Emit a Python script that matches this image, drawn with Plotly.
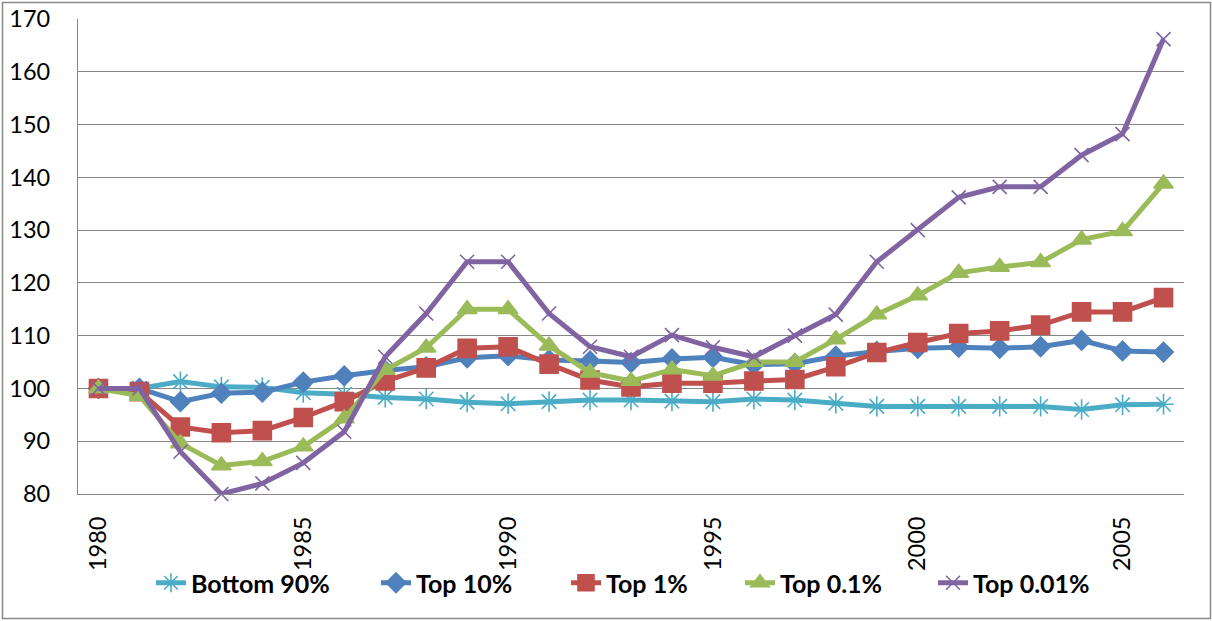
import plotly.graph_objects as go

years = list(range(1980, 2007))

bottom_90 = [100, 100, 101.3, 100.3, 100.2, 99.2, 98.9, 98.3, 98.0, 97.4, 97.1, 97.5, 97.8, 97.8, 97.6, 97.5,
             98.0, 97.8, 97.2, 96.6, 96.6, 96.6, 96.6, 96.6, 96.0, 96.9, 97.0]
top_10 = [100, 100, 97.5, 99.1, 99.3, 101.2, 102.4, 103.4, 104.1, 105.8, 106.2, 105.4, 105.2, 104.9, 105.6, 105.9,
          104.5, 104.7, 106.1, 107.0, 107.6, 107.8, 107.6, 107.9, 109.1, 107.1, 106.9]
top_1 = [100, 99.4, 92.7, 91.6, 92.0, 94.5, 97.5, 101.4, 103.9, 107.6, 107.9, 104.6, 101.6, 100.3, 101.0, 101.0,
         101.4, 101.7, 104.1, 106.8, 108.7, 110.4, 110.9, 112.0, 114.5, 114.5, 117.2]
top_01 = [100, 98.6, 89.6, 85.4, 86.2, 89.0, 94.3, 103.5, 107.7, 115.0, 115.0, 108.1, 103.0, 101.4, 103.6, 102.4,
          105.0, 105.0, 109.3, 114.0, 117.6, 121.9, 123.0, 123.9, 128.2, 129.8, 138.8]
top_001 = [100, 100, 88, 80, 82, 85.9, 91.8, 106, 114.2, 124, 124, 114.2, 107.9, 106, 110.1, 107.8,
           106, 110, 114, 124, 130, 136.2, 138.2, 138.2, 144.2, 148.2, 166.2]

# name, values, colour, marker, marker size, legend slot
series = [
    ("Bottom 90%", bottom_90, "#4BACC6", "asterisk-open", 17, "legend"),
    ("Top 10%", top_10, "#4F81BD", "diamond", 15, "legend2"),
    ("Top 1%", top_1, "#C0504D", "square", 18, "legend3"),
    ("Top 0.1%", top_01, "#9BBB59", "triangle-up", 17, "legend4"),
    ("Top 0.01%", top_001, "#8064A2", "x-thin-open", 14, "legend5"),
]
# where each legend entry's text starts (px)
text_starts = [193, 418, 608, 782, 975]

fig = go.Figure()
for name, vals, col, sym, sz, lg in series:
    fig.add_trace(go.Scatter(
        x=years, y=vals, name=name, mode="lines+markers",
        line=dict(color=col, width=5),
        marker=dict(symbol=sym, size=sz, color=col, line=dict(color=col, width=1.6)),
        cliponaxis=False, legend=lg,
    ))

legend_font = dict(family="Lato", size=25, color="black", weight="bold")
legends = {}
for (name, vals, col, sym, sz, lg), tx in zip(series, text_starts):
    legends[lg] = dict(orientation="h", xref="container", yref="container",
                       x=(tx - 42) / 1212, xanchor="left", y=(621 - 583) / 621, yanchor="middle",
                       font=legend_font, bgcolor="rgba(0,0,0,0)")

fig.update_layout(
    width=1212, height=621,
    margin=dict(l=78, r=28, t=19, b=127, autoexpand=False),
    paper_bgcolor="white", plot_bgcolor="white",
    font=dict(family="Lato", size=23.5, color="black"),
    showlegend=True,
    # outer chart frame
    shapes=[dict(type="rect", xref="paper", yref="paper",
                 x0=-75.5 / 1106, x1=1132.5 / 1106, y0=-124.5 / 475, y1=1 + 16.5 / 475,
                 line=dict(color="#8a8a8a", width=1.5), layer="above")],
    **legends,
)
fig.update_xaxes(range=[1979.5, 2006.5], tickvals=[1980, 1985, 1990, 1995, 2000, 2005],
                 tickangle=-90, showgrid=False, showline=True, linecolor="#868686", linewidth=1.3,
                 ticks="", ticklabelstandoff=12, zeroline=False, automargin=False)
fig.update_yaxes(range=[80, 170], dtick=10, showgrid=True, gridcolor="#868686", gridwidth=1.3,
                 showline=True, linecolor="#868686", linewidth=1.3, ticks="",
                 ticklabelstandoff=22, zeroline=False, automargin=False)

fig.write_html("out.html", config={"displayModeBar": False},
               post_script="document.body.style.margin='0';")
